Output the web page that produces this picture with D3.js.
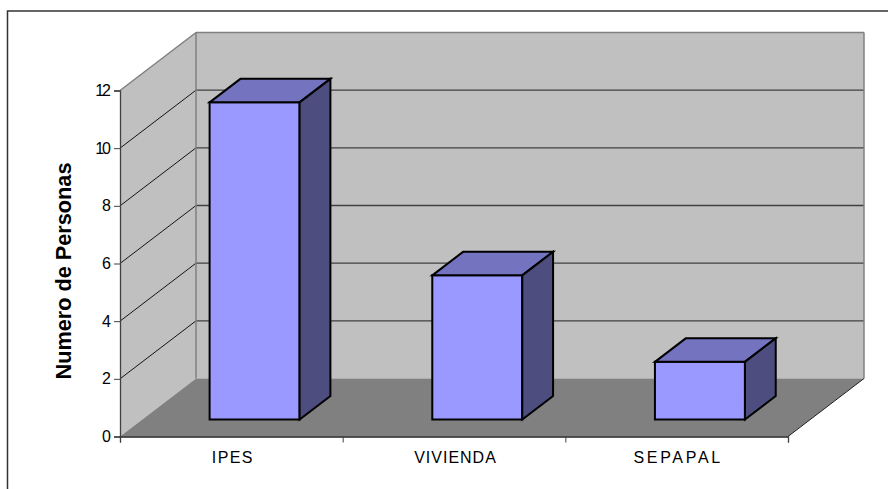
<!DOCTYPE html>
<meta charset="utf-8">
<style>
    html, body { margin: 0; background: #fff; }
    svg { display: block; }
    text { font-family: "Liberation Sans", Arial, sans-serif; fill: #000; }
</style>
<svg width="888" height="489"></svg>
<script src="https://d3js.org/d3.v7.min.js"></script>
<script>
    var categories = ["IPES", "VIVIENDA", "SEPAPAL"];
    var personas = [11, 5, 2];
    var yTicks = [0, 2, 4, 6, 8, 10, 12];
    var yTitle = "Numero de Personas";

    var svg = d3.select("svg");

    // plano frontal del grafico
    var x = d3.scaleBand().domain(categories).range([120, 788]);
    var y = d3.scaleLinear().domain([0, 12]).range([436.5, 90.5]);
    // profundidad 0..1 -> desplazamiento oblicuo
    var depthX = d3.scaleLinear().domain([0, 1]).range([0, 76]);
    var depthY = d3.scaleLinear().domain([0, 1]).range([0, -58]);

    function pt(px, value, depth) {
        return [px + depthX(depth), y(value) + depthY(depth)];
    }
    function poly(points, fill, stroke, sw) {
        return svg.append("polygon")
            .attr("points", points.map(function (p) { return p.join(","); }).join(" "))
            .attr("fill", fill)
            .attr("stroke", stroke)
            .attr("stroke-width", sw)
            .attr("stroke-linejoin", "miter");
    }
    function line(a, b, color, sw) {
        svg.append("line")
            .attr("x1", a[0]).attr("y1", a[1])
            .attr("x2", b[0]).attr("y2", b[1])
            .attr("stroke", color)
            .attr("stroke-width", sw);
    }

    // marco
    svg.append("path")
        .attr("d", "M7.5,489V11H888")
        .attr("fill", "none")
        .attr("stroke", "#333")
        .attr("stroke-width", 1.5);

    var x0 = 120, x1 = 788, yMax = 12;

    // paredes y suelo
    poly([pt(x0, 0, 1), pt(x0, yMax, 1), pt(x1, yMax, 1), pt(x1, 0, 1)], "#c0c0c0", "none", 0);
    poly([pt(x0, 0, 0), pt(x0, yMax, 0), pt(x0, yMax, 1), pt(x0, 0, 1)], "#c0c0c0", "none", 0);
    poly([pt(x0, 0, 0), pt(x0, 0, 1), pt(x1, 0, 1), pt(x1, 0, 0)], "#808080", "none", 0);

    // rejilla
    yTicks.slice(1, -1).forEach(function (t) {
        line(pt(x0, t, 0), pt(x0, t, 1), "#000", 0.9);
        line(pt(x0, t, 1), pt(x1, t, 1), "#404040", 1.3);
    });
    line(pt(x0, yMax, 1), pt(x1, yMax, 1), "#808080", 1.5);
    line(pt(x1, 0, 1), pt(x1, yMax, 1), "#808080", 1.5);
    line(pt(x0, yMax, 0), pt(x0, yMax, 1), "#808080", 1.5);
    line(pt(x0, yMax, 1), pt(x0, 0, 1), "#808080", 1.5);
    line(pt(x1, 0, 0), pt(x1, 0, 1), "#222", 1);

    // barras
    var dFront = 17 / 58, dBack = 40.5 / 58, barW = 90;
    categories.forEach(function (c, i) {
        var left = x(c) + x.bandwidth() / 2 - barW / 2 + 1;
        var right = left + barW;
        var v = personas[i];
        poly([pt(left, 0, dFront), pt(left, v, dFront), pt(right, v, dFront), pt(right, 0, dFront)], "#9999ff", "#000", 2);
        poly([pt(left, v, dFront), pt(left, v, dBack), pt(right, v, dBack), pt(right, v, dFront)], "#7373bf", "#000", 2);
        poly([pt(right, 0, dFront), pt(right, v, dFront), pt(right, v, dBack), pt(right, 0, dBack)], "#4d4d80", "#000", 2);
    });

    // ejes
    var yAxis = d3.axisLeft(y).tickValues(yTicks).tickSize(6).tickPadding(5);
    var gy = svg.append("g").attr("transform", "translate(120,0)").call(yAxis);
    gy.select(".domain").attr("stroke", "#404040").attr("stroke-width", 1.3);
    gy.selectAll(".tick line").attr("stroke", "#404040");
    gy.selectAll("text")
        .style("font-size", "16px")
        .style("letter-spacing", "-2px")
        .style("font-family", '"Liberation Sans", Arial, sans-serif')
        .attr("fill", "#000");

    var xAxisEdges = d3.axisBottom(d3.scaleLinear().domain([0, 3]).range([120, 788]))
        .tickValues([0, 1, 2, 3]).tickSize(6).tickFormat("");
    var gx = svg.append("g").attr("transform", "translate(0,436.5)").call(xAxisEdges);
    gx.select(".domain").attr("stroke", "#222").attr("stroke-width", 1.3);
    gx.selectAll(".tick line").attr("stroke", "#404040");

    var catSpacing = { IPES: "1.4px", VIVIENDA: "1px", SEPAPAL: "2.7px" };
    svg.selectAll(".cat").data(categories).enter().append("text")
        .attr("class", "cat")
        .attr("x", function (d) { return x(d) + x.bandwidth() / 2 + 1.5; })
        .attr("y", 463)
        .attr("text-anchor", "middle")
        .style("font-size", "16px")
        .style("letter-spacing", function (d) { return catSpacing[d]; })
        .text(function (d) { return d; });

    svg.append("text")
        .attr("transform", "translate(71,271) rotate(-90)")
        .attr("text-anchor", "middle")
        .style("font-size", "21.7px")
        .style("font-weight", "bold")
        .text(yTitle);
</script>
